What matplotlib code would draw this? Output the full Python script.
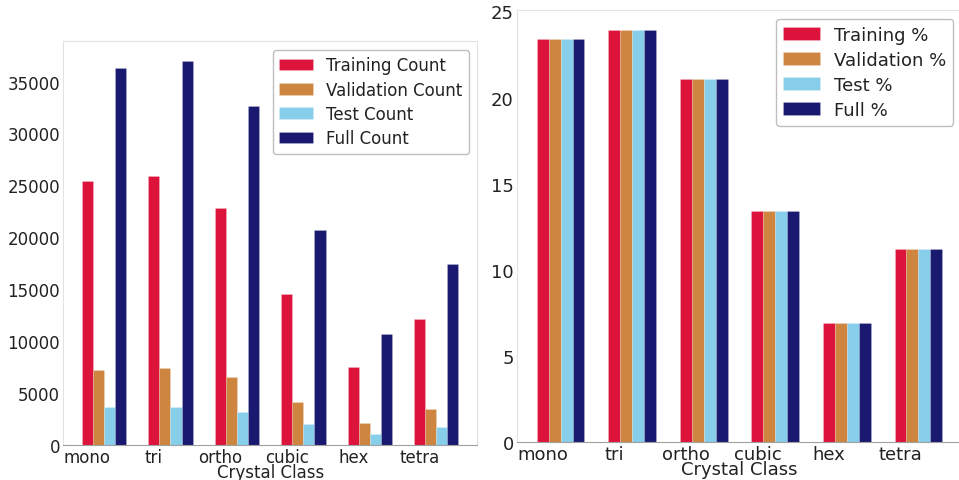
import numpy as np
import matplotlib
matplotlib.use("Agg")
import matplotlib.pyplot as plt

categories = ["mono", "tri", "ortho", "cubic", "hex", "tetra"]

train_count = [25400, 25940, 22830, 14520, 7480, 12170]
val_count = [7225, 7390, 6520, 4110, 2120, 3470]
test_count = [3630, 3690, 3210, 2020, 1060, 1730]
full_count = [36290, 37020, 32630, 20710, 10690, 17410]

train_pct = [23.42, 23.90, 21.06, 13.40, 6.90, 11.23]
val_pct = [23.42, 23.90, 21.06, 13.40, 6.90, 11.23]
test_pct = [23.42, 23.90, 21.06, 13.40, 6.90, 11.23]
full_pct = [23.42, 23.90, 21.06, 13.40, 6.90, 11.23]

colors = ["#DC143C", "#CD853F", "#87CEEB", "#191970"]
count_labels = ["Training Count", "Validation Count", "Test Count", "Full Count"]
pct_labels = ["Training %", "Validation %", "Test %", "Full %"]

W, H = 959, 481
fig = plt.figure(figsize=(W / 100, H / 100), dpi=100)

def px_axes(x0, y0, x1, y1):
    return fig.add_axes([x0 / W, 1 - y1 / H, (x1 - x0) / W, (y1 - y0) / H])

ax1 = px_axes(63, 42.3, 477.3, 446)
ax2 = px_axes(516.5, 10.7, 962.5, 443.3)

x = np.arange(len(categories))
w = 1 / 6

def draw(ax, series, labels, fs):
    for i, (vals, lab, c) in enumerate(zip(series, labels, colors)):
        ax.bar(x + i * w, vals, w, color=c, label=lab,
               edgecolor=(1, 1, 1, 0.25), linewidth=0.5)
    ax.set_xticks(x)
    ax.set_xticklabels(categories)
    ax.tick_params(axis="both", length=0, labelsize=fs, pad=2, colors="#222222")
    ax.set_xlabel("Crystal Class", fontsize=fs, labelpad=-2, color="#222222")
    for s in ["left", "top", "right"]:
        ax.spines[s].set_color("#e2e2e2")
    ax.spines["bottom"].set_color("#a0a0a0")
    leg = ax.legend(loc="upper right", fontsize=fs, frameon=True, fancybox=True,
                    labelspacing=0.38)
    leg.get_frame().set_edgecolor("#b0b0b0")
    for t in leg.get_texts():
        t.set_color("#222222")

draw(ax1, [train_count, val_count, test_count, full_count], count_labels, 12)
draw(ax2, [train_pct, val_pct, test_pct, full_pct], pct_labels, 13)
ax1.set_yticks(np.arange(0, 35001, 5000))
ax2.set_yticks(np.arange(0, 26, 5))

fig.savefig("out.png", dpi=100)
